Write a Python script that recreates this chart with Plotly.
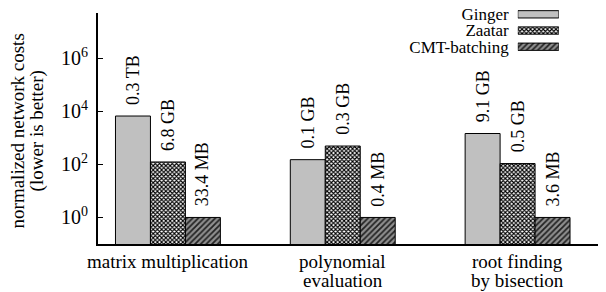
import math
import plotly.graph_objects as go

categories = ["matrix multiplication", "polynomial<br>evaluation", "root finding<br>by bisection"]
series_names = ["Ginger", "Zaatar", "CMT-batching"]
ginger = [6600, 150, 1450]
zaatar = [123, 490, 107]
cmt = [1, 1, 1]
ginger_labels = ["0.3 TB", "0.1 GB", "9.1 GB"]
zaatar_labels = ["6.8 GB", "0.3 GB", "0.5 GB"]
cmt_labels = ["33.4 MB", "0.4 MB", "3.6 MB"]
ytick_vals = [1, 100, 1e4, 1e6]
ytick_text = ["10<sup>0</sup>", "10<sup>2</sup>", "10<sup>4</sup>", "10<sup>6</sup>"]
y_title_lines = ["normalized network costs", "(lower is better)"]

FONT = "Liberation Serif, Times New Roman, serif"
styles = [
    dict(color="#c0c0c0", pattern=dict(shape="")),
    dict(color="white", pattern=dict(shape="x", size=3, solidity=0.6, fgcolor="black", bgcolor="white", fillmode="replace")),
    dict(color="#7a7a7a", pattern=dict(shape="/", size=4, solidity=0.45, fgcolor="#222222", bgcolor="#909090", fillmode="replace")),
]
series = [ginger, zaatar, cmt]
labels = [ginger_labels, zaatar_labels, cmt_labels]

x_idx = list(range(len(categories)))
fig = go.Figure()
for name, vals, st in zip(series_names, series, styles):
    fig.add_trace(go.Bar(
        x=x_idx, y=vals, name=name, showlegend=False,
        marker=dict(color=st["color"], pattern=st["pattern"], line=dict(color="black", width=1)),
        xaxis="x", yaxis="y",
    ))

# legend swatches as a small horizontal bar chart (one trace per series)
for name, st in zip(series_names, styles):
    fig.add_trace(go.Bar(
        y=[name], x=[1], orientation="h", showlegend=False, width=0.45, offset=-0.225,
        marker=dict(color=st["color"], pattern=st["pattern"], line=dict(color="black", width=1)),
        xaxis="x2", yaxis="y2", hoverinfo="skip",
    ))

annotations = []
bw = 0.2
for j, (vals, labs) in enumerate(zip(series, labels)):
    for i, (v, t) in enumerate(zip(vals, labs)):
        annotations.append(dict(
            x=i + (j - 1) * bw, y=math.log10(v), xref="x", yref="y",
            text=t, textangle=-90, showarrow=False, yanchor="bottom", xanchor="center",
            yshift=9, font=dict(family=FONT, size=18, color="black"),
        ))

# category labels (line by line for tight spacing)
for i, c in enumerate(categories):
    for k, line in enumerate(c.split("<br>")):
        annotations.append(dict(
            x=i, y=0, xref="x", yref="paper", text=line, showarrow=False,
            yanchor="top", xanchor="center", yshift=-5 - 18.5 * k,
            font=dict(family=FONT, size=19, color="black"),
        ))

# y-axis title lines
for k, line in enumerate(y_title_lines):
    annotations.append(dict(
        x=0, y=0.477, xref="paper", yref="paper", text=line, showarrow=False,
        textangle=-90, xanchor="center", yanchor="middle", xshift=-81 + 20 * k,
        font=dict(family=FONT, size=19, color="black"),
    ))

fig.update_layout(
    width=598, height=284,
    margin=dict(l=90, r=1, t=0, b=48, pad=0, autoexpand=False),
    paper_bgcolor="white", plot_bgcolor="white",
    barmode="group", bargap=0.4, bargroupgap=0,
    font=dict(family=FONT, size=19, color="black"),
    xaxis=dict(domain=[0, 1], range=[-0.4, 2.5], showticklabels=False, ticks="", automargin=False,
               showline=True, linecolor="black", linewidth=2, showgrid=False, zeroline=False),
    yaxis=dict(domain=[0, 231 / 236], type="log", range=[-1, 7.7], tickvals=ytick_vals, ticktext=ytick_text,
               ticks="inside", ticklen=5, tickcolor="black", showline=True, linecolor="black", linewidth=2,
               automargin=False, showgrid=False, zeroline=False, ticklabelstandoff=4,
               tickfont=dict(family=FONT, size=20, color="black")),
    xaxis2=dict(domain=[0.828, 0.909], range=[0, 1], anchor="y2", visible=False, fixedrange=True,
                automargin=False),
    yaxis2=dict(domain=[0.805, 1.0], anchor="x2", range=[2.45, -0.39], showline=False, showgrid=False,
                tickmode="array", tickvals=series_names, automargin=False,
                ticks="", ticklabelstandoff=8, zeroline=False,
                tickfont=dict(family=FONT, size=17, color="black")),
    annotations=annotations,
)
fig.write_html("out.html")
